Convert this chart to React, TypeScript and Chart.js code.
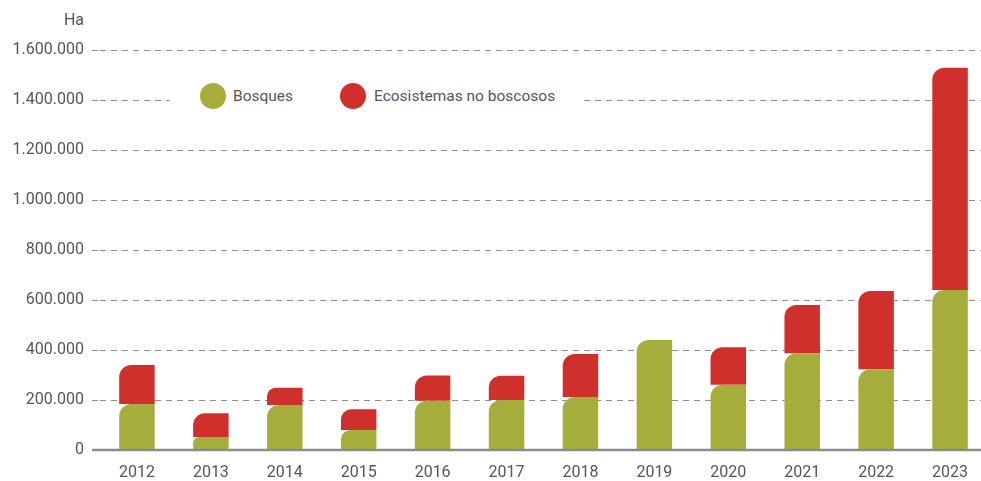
import React, { useEffect, useRef } from "react";
import { Chart, registerables } from "chart.js";

Chart.register(...registerables);

const years = ["2012", "2013", "2014", "2015", "2016", "2017", "2018", "2019", "2020", "2021", "2022", "2023"];
const bosques = [184000, 52000, 180000, 80000, 197000, 200000, 212000, 440000, 261000, 387000, 323000, 640000];
const noBoscosos = [156000, 95000, 69000, 83000, 101000, 97000, 172000, 0, 150000, 193000, 313000, 889000];
const seriesNames = ["Bosques", "Ecosistemas no boscosos"];
const unitLabel = "Ha";

const GREEN = "#a5ae3a";
const RED = "#cf302b";
const TEXT = "#555555";
const GRID = "#8f8f8f";
const FONT = "Roboto";

const fmt = (v: number) => String(Math.round(v)).replace(/\B(?=(\d{3})+(?!\d))/g, ".");

const baselinePlugin = {
  id: "baseline",
  afterDatasetsDraw(chart: any) {
    const y = chart.scales.y.getPixelForValue(0);
    const { left, right } = chart.chartArea;
    const ctx = chart.ctx;
    ctx.save();
    ctx.strokeStyle = "#8c8c8c";
    ctx.lineWidth = 2.5;
    ctx.beginPath();
    ctx.moveTo(left - 8, y);
    ctx.lineTo(right + 10, y);
    ctx.stroke();
    ctx.restore();
  },
};

export default function App() {
  const ref = useRef<HTMLCanvasElement | null>(null);

  useEffect(() => {
    if (!ref.current) return;
    const chart = new Chart(ref.current, {
      type: "bar",
      data: {
        labels: years,
        datasets: [
          {
            label: seriesNames[0],
            data: bosques,
            backgroundColor: GREEN,
            borderRadius: { topLeft: 12, topRight: 0, bottomLeft: 0, bottomRight: 0 },
            borderSkipped: "start",
            categoryPercentage: 1,
            barPercentage: 0.48,
          },
          {
            label: seriesNames[1],
            data: noBoscosos,
            backgroundColor: RED,
            borderRadius: { topLeft: 12, topRight: 0, bottomLeft: 0, bottomRight: 0 },
            borderSkipped: "start",
            categoryPercentage: 1,
            barPercentage: 0.48,
          },
        ],
      },
      options: {
        responsive: false,
        animation: false,
        layout: { padding: { top: 50, right: 8, bottom: 0, left: 0 } },
        plugins: {
          legend: { display: false },
          tooltip: { enabled: false },
        },
        scales: {
          x: {
            stacked: true,
            grid: { display: false, drawTicks: false },
            border: { display: false },
            ticks: {
              color: TEXT,
              font: { family: FONT, size: 16 },
              padding: 13,
              maxRotation: 0,
              autoSkip: false,
            },
            afterFit: (s: any) => {
              s.height = 31;
            },
          },
          y: {
            stacked: true,
            min: 0,
            max: 1600000,
            border: { display: false, dash: [6, 5] },
            grid: {
              color: (c: any) => (c.tick && c.tick.value === 0 ? "rgba(0,0,0,0)" : GRID),
              tickColor: (c: any) => (c.tick && c.tick.value === 0 ? "rgba(0,0,0,0)" : GRID),
              tickBorderDash: [6, 5],
              tickLength: 8,
              lineWidth: 1,
              drawTicks: true,
            },
            ticks: {
              stepSize: 200000,
              color: TEXT,
              font: { family: FONT, size: 16 },
              padding: 8,
              callback: (v: any) => fmt(Number(v)),
            },
            afterFit: (s: any) => {
              s.width = 100;
            },
          },
        },
      },
      plugins: [baselinePlugin],
    });
    return () => chart.destroy();
  }, []);

  const textStyle: React.CSSProperties = {
    position: "absolute",
    fontFamily: FONT,
    fontSize: 15.5,
    color: TEXT,
    lineHeight: "20px",
    whiteSpace: "nowrap",
  };

  return (
    <div style={{ position: "fixed", left: 0, top: 0, width: 981, height: 481, overflow: "hidden", background: "#fff" }}>
      <div style={{ position: "relative", width: 995, height: 481 }}>
        <canvas ref={ref} width={995} height={481} style={{ display: "block" }} />
        <div style={{ ...textStyle, fontSize: 16, right: 995 - 84, top: 10, textAlign: "right" }}>{unitLabel}</div>
        <div style={{ position: "absolute", left: 170, top: 80, width: 410, height: 32, background: "#fff" }} />
        <div style={{ position: "absolute", left: 200, top: 83, width: 26, height: 26, borderRadius: 13, background: GREEN }} />
        <div style={{ ...textStyle, left: 233, top: 86 }}>{seriesNames[0]}</div>
        <div style={{ position: "absolute", left: 340, top: 83, width: 26, height: 26, borderRadius: 13, background: RED }} />
        <div style={{ ...textStyle, left: 374, top: 86 }}>{seriesNames[1]}</div>
      </div>
    </div>
  );
}
